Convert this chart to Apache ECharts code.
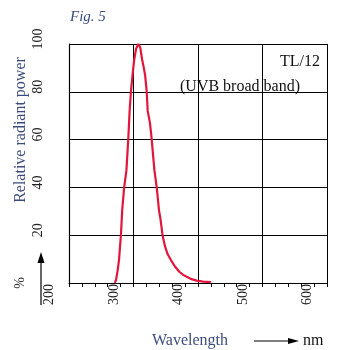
<!DOCTYPE html>
<html>
<head>
<meta charset="utf-8">
<script src="https://cdn.jsdelivr.net/npm/echarts@6/dist/echarts.min.js"></script>
<style>
  html, body { margin: 0; padding: 0; background: #fff; }
  #chart { width: 340px; height: 350px; }
</style>
</head>
<body>
<div id="chart"></div>
<script>
// Spectral power distribution of the TL/12 lamp
const wavelength = [271, 273, 275.5, 277.5, 280.5, 282.5, 285.5, 289, 290, 292, 294, 296, 298.5, 301, 304, 307.5,
  310.5, 313.5, 316, 318, 320.5, 322, 325.5, 328, 331, 332.5, 336, 339.5, 342, 345, 349, 353, 358, 364, 371, 377,
  382.5, 390, 398, 408, 420];
const relativePower = [0, 1.3, 5.4, 9.6, 20, 30.5, 40, 47, 51.5, 60.7, 72, 80, 87, 93.3, 98, 100,
  98.5, 93.3, 90, 87, 80, 72, 67, 60.7, 51.5, 47, 40, 30.5, 26.4, 20, 15.2, 12, 9.6, 7, 4.7, 3.4,
  2.6, 1.6, 1, 0.6, 0.4];

const xTicks = [200, 300, 400, 500, 600];
const xTickLabels = ['200', '300', '400', '500', '600'];
const yTicks = [0, 20, 40, 60, 80, 100];
const yTickLabels = ['', '20', '40', '60', '80', '100'];

const SERIF = '"Liberation Serif", "Times New Roman", serif';
const BLUE = '#3d4c7e';

const chart = echarts.init(document.getElementById('chart'), null, { renderer: 'canvas' });

chart.setOption({
  animation: false,
  backgroundColor: '#ffffff',
  grid: { left: 69, right: 13, top: 44, bottom: 67, containLabel: false, outerBoundsMode: 'none' },
  xAxis: {
    type: 'value',
    min: xTicks[0],
    max: xTicks[xTicks.length - 1],
    interval: 100,
    axisLine: { show: true, lineStyle: { color: '#000', width: 1.2 } },
    axisTick: { show: true, length: 4, inside: false, lineStyle: { color: '#000', width: 1 } },
    minorTick: { show: true, splitNumber: 5, length: 4, lineStyle: { color: '#000', width: 1 } },
    splitLine: { show: true, lineStyle: { color: '#000', width: 1 } },
    axisLabel: {
      rotate: 90,
      margin: 1,
      verticalAlign: 'middle',
      lineHeight: 13,
      color: '#222',
      fontFamily: SERIF,
      fontSize: 14,
      showMinLabel: true,
      showMaxLabel: true,
      hideOverlap: false,
      // blank trailing lines push the vertical labels to the left of their ticks
      formatter: v => (xTickLabels[xTicks.indexOf(v)] ?? '') + '\n\n\n'
    }
  },
  yAxis: {
    type: 'value',
    min: yTicks[0],
    max: yTicks[yTicks.length - 1],
    interval: 20,
    axisLine: { show: true, lineStyle: { color: '#000', width: 1.2 } },
    axisTick: { show: false },
    splitLine: { show: true, lineStyle: { color: '#000', width: 1 } },
    axisLabel: {
      rotate: 90,
      margin: 24,
      padding: [0, 0, 0, 10],
      color: '#222',
      fontFamily: SERIF,
      fontSize: 14,
      formatter: v => yTickLabels[yTicks.indexOf(v)] ?? ''
    }
  },
  series: [{
    type: 'line',
    data: wavelength.map((w, i) => [w, relativePower[i]]),
    symbol: 'none',
    smooth: false,
    lineStyle: { color: '#e2163c', width: 2.2 },
    z: 5
  }],
  graphic: [
    { type: 'text', left: 70, top: 10,
      style: { text: 'Fig. 5', font: 'italic 15px ' + SERIF, fill: BLUE } },
    { type: 'text', x: 320, y: 62,
      style: { text: 'TL/12', font: '16px ' + SERIF, fill: '#111', align: 'right', verticalAlign: 'middle' } },
    { type: 'text', x: 180, y: 87,
      style: { text: '(UVB broad band)', font: '16px ' + SERIF, fill: '#111', align: 'left', verticalAlign: 'middle' } },
    { type: 'text', x: 21, y: 130, rotation: Math.PI / 2,
      style: { text: 'Relative radiant power', font: '16px ' + SERIF, fill: BLUE, align: 'center', verticalAlign: 'middle' } },
    { type: 'text', x: 20, y: 283, rotation: Math.PI / 2,
      style: { text: '%', font: '14px ' + SERIF, fill: '#333', align: 'center', verticalAlign: 'middle' } },
    { type: 'line', shape: { x1: 41, y1: 305, x2: 41, y2: 260 },
      style: { stroke: '#000', lineWidth: 1.2 } },
    { type: 'polygon', shape: { points: [[41, 252], [37.5, 263], [44.5, 263]] },
      style: { fill: '#000' } },
    { type: 'text', x: 152, y: 341,
      style: { text: 'Wavelength', font: '16px ' + SERIF, fill: BLUE, align: 'left', verticalAlign: 'middle' } },
    { type: 'line', shape: { x1: 254, y1: 341, x2: 290, y2: 341 },
      style: { stroke: '#000', lineWidth: 1.2 } },
    { type: 'polygon', shape: { points: [[299, 341], [288, 338], [288, 344]] },
      style: { fill: '#000' } },
    { type: 'text', x: 303, y: 341,
      style: { text: 'nm', font: '16px ' + SERIF, fill: '#111', align: 'left', verticalAlign: 'middle' } }
  ]
});
</script>
</body>
</html>
